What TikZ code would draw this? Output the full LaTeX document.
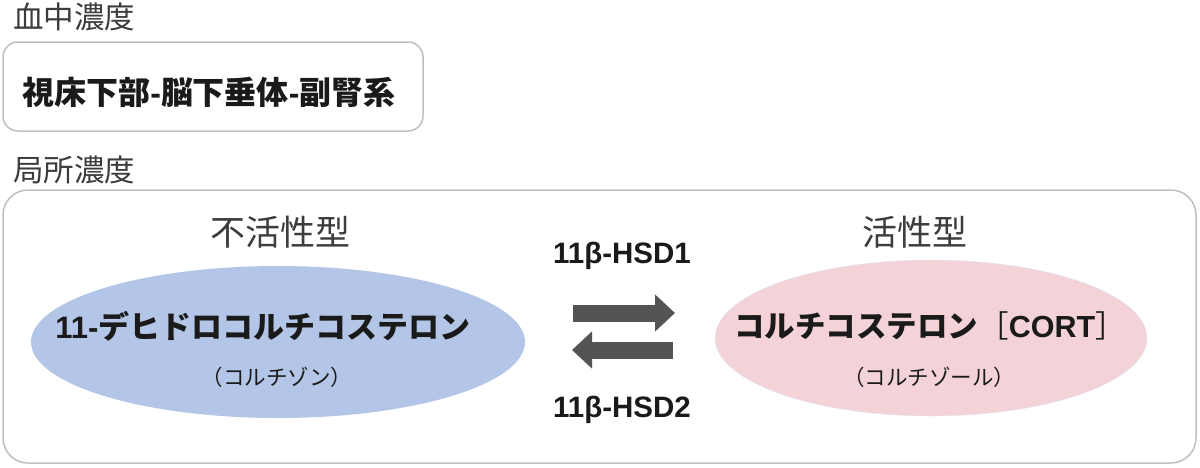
\documentclass[tikz,border=0pt]{standalone}
\usepackage{fontspec}
\setmainfont{Noto Sans CJK JP}
\newfontfamily\lat{Liberation Sans}
\usetikzlibrary{arrows.meta,shapes.geometric}
\definecolor{boxgray}{HTML}{BFBFBF}
\definecolor{bluefill}{HTML}{B4C6E7}
\definecolor{pinkfill}{HTML}{F4D3D8}
\definecolor{arrowgray}{HTML}{545454}
\definecolor{txt}{HTML}{1A1A1A}
\tikzset{
  panel/.style={draw=boxgray, line width=1.5pt},
  head/.style={inner sep=0pt, text=txt!85, font=\fontsize{35}{38}\selectfont},
  sect/.style={inner sep=0pt, anchor=west, text=txt!85, font=\fontsize{30.5}{34}\selectfont},
  blob/.style={ellipse, inner sep=0pt},
  main/.style={inner sep=0pt, text=txt, font=\fontsize{31}{34}\selectfont\bfseries},
  sub/.style={inner sep=0pt, text=txt, font=\fontsize{21.5}{24}\selectfont},
  enz/.style={inner sep=0pt, text=txt, font=\fontsize{29.5}{32}\selectfont\lat\bfseries},
  blockarrow/.style={draw=arrowgray, line width=17pt, -{Triangle[length=20pt,width=36pt]}}
}
\begin{document}
\begin{tikzpicture}[x=1pt,y=-1pt]
\useasboundingbox (0,0) rectangle (1200,467);
\fill[white] (0,0) rectangle (1200,467);
% upper section
\node[sect] (blood) at (13,17) {血中濃度};
\draw[panel, rounded corners=15pt] (3,42) rectangle (423,131);
\node[main, font=\fontsize{32}{35}\selectfont\bfseries] (hpa) at (209,92) {視床下部{\lat -}脳下垂体{\lat -}副腎系};
% lower section
\node[sect] (local) at (13,170) {局所濃度};
\draw[panel, rounded corners=25pt] (3,190) rectangle (1196,463);
\node[head] (inact) at (280,232) {不活性型};
\node[head] (act) at (915,232) {活性型};
\node[blob, fill=bluefill, minimum width=494pt, minimum height=152pt] (cortisone) at (278,342) {};
\node[blob, fill=pinkfill, draw=bluefill!40, minimum width=432pt, minimum height=156pt] (cort) at (931,338) {};
\node[main] (t1) at (263,326) {{\lat 11-}デヒドロコルチコステロン};
\node[sub] (s1) at (277,377) {（コルチゾン）};
\node[main, font=\fontsize{30.5}{34}\selectfont\bfseries] (t2) at (930,326) {コルチコステロン{\mdseries［}{\lat CORT}{\mdseries］}};
\node[sub] (s2) at (929,377) {（コルチゾール）};
% enzymes and arrows
\node[enz] (hsd1) at (622,256) {11β-HSD1};
\node[enz] (hsd2) at (622,410) {11β-HSD2};
\coordinate (r0) at (573,313);
\coordinate (r1) at (675,313);
\coordinate (l0) at (673,350);
\coordinate (l1) at (572,350);
\draw[blockarrow] (r0) -- (r1);
\draw[blockarrow] (l0) -- (l1);
\end{tikzpicture}
\end{document}
